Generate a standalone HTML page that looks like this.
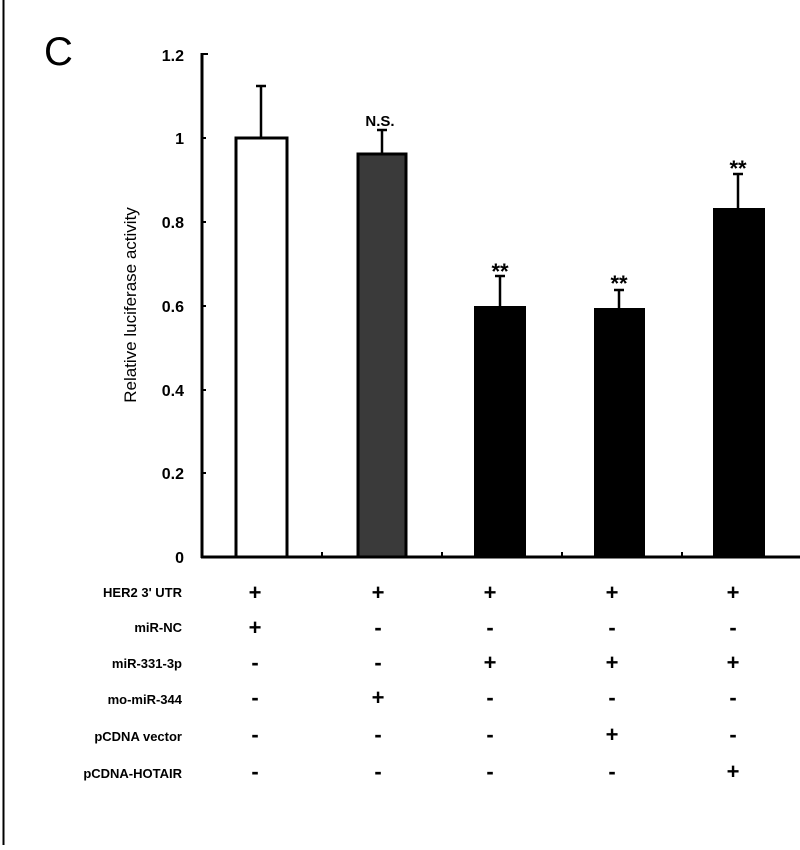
<!DOCTYPE html>
<html><head><style>
html,body{margin:0;padding:0;background:#fff;}
body{width:800px;height:845px;overflow:hidden;}
text{font-family:"Liberation Sans",Arial,sans-serif;fill:#000;}
</style></head><body>
<svg width="800" height="845" viewBox="0 0 800 845" xmlns="http://www.w3.org/2000/svg">
<line x1="3.5" y1="0" x2="3.5" y2="845" stroke="#000" stroke-width="2"/>
<text x="44" y="65" font-size="40">C</text>
<g font-size="16" font-weight="bold" text-anchor="end">
<text x="184" y="61">1.2</text><text x="184" y="144">1</text><text x="184" y="228">0.8</text>
<text x="184" y="312">0.6</text><text x="184" y="396">0.4</text><text x="184" y="479">0.2</text><text x="184" y="563">0</text>
</g>
<text transform="translate(136,305) rotate(-90)" font-size="17" text-anchor="middle">Relative luciferase activity</text>
<line x1="202" y1="53" x2="202" y2="558" stroke="#000" stroke-width="3"/>
<line x1="201" y1="557" x2="800" y2="557" stroke="#000" stroke-width="3"/>
<g stroke="#000" stroke-width="2">
<line x1="202" y1="54" x2="208" y2="54"/><line x1="202" y1="138" x2="206" y2="138"/>
<line x1="202" y1="222" x2="206" y2="222"/><line x1="202" y1="306" x2="206" y2="306"/>
<line x1="202" y1="390" x2="206" y2="390"/><line x1="202" y1="473" x2="206" y2="473"/>
<line x1="322" y1="557" x2="322" y2="552"/><line x1="442" y1="557" x2="442" y2="552"/>
<line x1="562" y1="557" x2="562" y2="552"/><line x1="682" y1="557" x2="682" y2="552"/>
</g>
<g stroke="#000" stroke-width="2.5">
<line x1="261" y1="138" x2="261" y2="86"/><line x1="256" y1="86" x2="266" y2="86"/>
<line x1="382" y1="154" x2="382" y2="130"/><line x1="377" y1="130" x2="387" y2="130"/>
<line x1="500" y1="306" x2="500" y2="276"/><line x1="495" y1="276" x2="505" y2="276"/>
<line x1="619" y1="308" x2="619" y2="290"/><line x1="614" y1="290" x2="624" y2="290"/>
<line x1="738" y1="208" x2="738" y2="174"/><line x1="733" y1="174" x2="743" y2="174"/>
</g>
<rect x="236" y="138" width="51" height="419" fill="#fff" stroke="#000" stroke-width="3"/>
<rect x="358" y="154" width="48" height="403" fill="#3a3a3a" stroke="#000" stroke-width="3"/>
<rect x="474" y="306" width="52" height="251" fill="#000"/>
<rect x="594" y="308" width="51" height="249" fill="#000"/>
<rect x="713" y="208" width="52" height="349" fill="#000"/>
<g font-size="22" font-weight="bold" text-anchor="middle">
<text x="380" y="126" font-size="15">N.S.</text>
<text x="500" y="279">**</text><text x="619" y="291">**</text><text x="738" y="176">**</text>
</g>
<g font-size="13" font-weight="bold" text-anchor="end">
<text x="182" y="597">HER2 3' UTR</text><text x="182" y="632">miR-NC</text>
<text x="182" y="668">miR-331-3p</text><text x="182" y="704">mo-miR-344</text>
<text x="182" y="741">pCDNA vector</text><text x="182" y="778">pCDNA-HOTAIR</text>
</g>
<g font-size="22" font-weight="bold" text-anchor="middle">
<text x="255" y="600">+</text><text x="378" y="600">+</text><text x="490" y="600">+</text><text x="612" y="600">+</text><text x="733" y="600">+</text>
<text x="255" y="635">+</text><text x="378" y="635">-</text><text x="490" y="635">-</text><text x="612" y="635">-</text><text x="733" y="635">-</text>
<text x="255" y="670">-</text><text x="378" y="670">-</text><text x="490" y="670">+</text><text x="612" y="670">+</text><text x="733" y="670">+</text>
<text x="255" y="705">-</text><text x="378" y="705">+</text><text x="490" y="705">-</text><text x="612" y="705">-</text><text x="733" y="705">-</text>
<text x="255" y="742">-</text><text x="378" y="742">-</text><text x="490" y="742">-</text><text x="612" y="742">+</text><text x="733" y="742">-</text>
<text x="255" y="779">-</text><text x="378" y="779">-</text><text x="490" y="779">-</text><text x="612" y="779">-</text><text x="733" y="779">+</text>
</g>
</svg>
</body></html>
